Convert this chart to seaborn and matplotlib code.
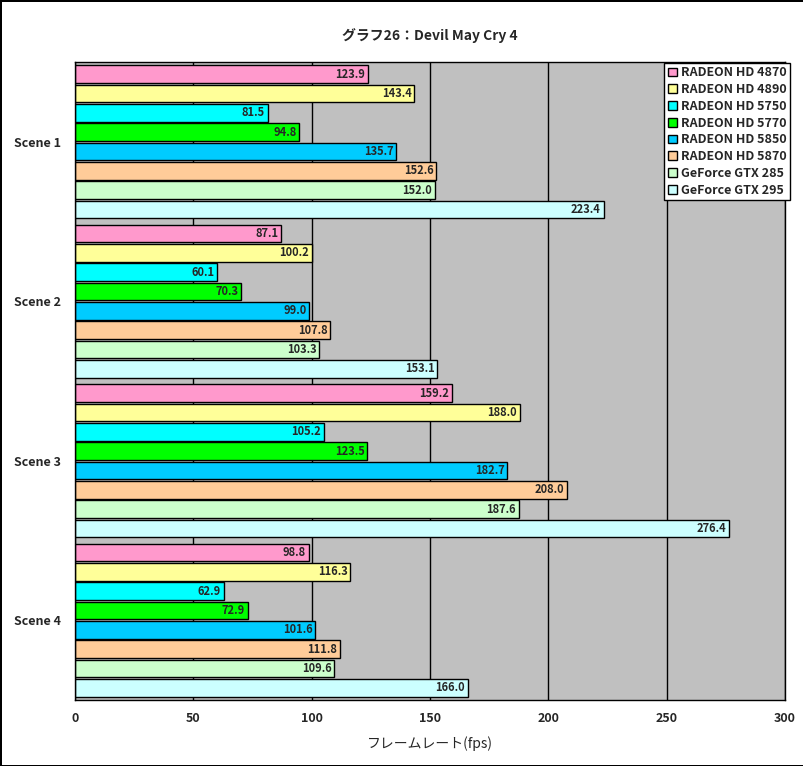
import matplotlib
matplotlib.use("Agg")
import matplotlib.pyplot as plt
import pandas as pd
import seaborn as sns

scenes = ["Scene 1", "Scene 2", "Scene 3", "Scene 4"]
cards = [
    "RADEON HD 4870", "RADEON HD 4890", "RADEON HD 5750", "RADEON HD 5770",
    "RADEON HD 5850", "RADEON HD 5870", "GeForce GTX 285", "GeForce GTX 295",
]
fps_scene1 = [123.9, 143.4, 81.5, 94.8, 135.7, 152.6, 152.0, 223.4]
fps_scene2 = [87.1, 100.2, 60.1, 70.3, 99.0, 107.8, 103.3, 153.1]
fps_scene3 = [159.2, 188.0, 105.2, 123.5, 182.7, 208.0, 187.6, 276.4]
fps_scene4 = [98.8, 116.3, 62.9, 72.9, 101.6, 111.8, 109.6, 166.0]
colors = ["#FF99CC", "#FFFF99", "#00FFFF", "#00FF00",
          "#00CCFF", "#FFCC99", "#CCFFCC", "#CCFFFF"]

rows = []
for scene, vals in zip(scenes, [fps_scene1, fps_scene2, fps_scene3, fps_scene4]):
    for card, v in zip(cards, vals):
        rows.append({"scene": scene, "card": card, "fps": v})
df = pd.DataFrame(rows)

sns.set_theme(style="white")
plt.rcParams["font.family"] = ["Noto Sans CJK JP", "DejaVu Sans"]

fig = plt.figure(figsize=(8.04, 7.66), dpi=100)
fig.patch.set_edgecolor("black")
fig.patch.set_linewidth(2)
ax = fig.add_axes([75 / 804, 1 - 700 / 766, 710 / 804, 638 / 766])
ax.set_facecolor("#C0C0C0")

sns.barplot(data=df, y="scene", x="fps", hue="card", order=scenes, hue_order=cards,
            palette=colors, saturation=1, edgecolor="black", linewidth=1,
            width=0.97, gap=0.08, ax=ax, legend=True)

for container in ax.containers:
    for p in container:
        w = p.get_width()
        ax.annotate(f"{w:.1f}", (w, p.get_y() + p.get_height() / 2),
                    xytext=(-2, 0), textcoords="offset points",
                    ha="right", va="center", fontsize=8, fontweight="bold")

ax.set_xlim(0, 300)
ax.set_xticks([0, 50, 100, 150, 200, 250, 300])
ax.xaxis.grid(True, color="black", linewidth=1)
ax.set_axisbelow(True)
ax.tick_params(axis="x", direction="in", length=4, labelsize=9, pad=9)
ax.tick_params(axis="y", length=0, labelsize=9, pad=10)
ax.set_yticks([0.5, 1.5, 2.5], minor=True)
ax.tick_params(axis="y", which="minor", length=4, direction="out")
for lbl in ax.get_xticklabels() + ax.get_yticklabels():
    lbl.set_fontweight("bold")
ax.set_ylim(3.5, -0.5)
for s in ax.spines.values():
    s.set_color("black")
    s.set_linewidth(1)

ax.set_xlabel("フレームレート(fps)", fontsize=10, labelpad=8)
ax.set_ylabel("")
ax.set_title("グラフ26：Devil May Cry 4", fontsize=10, pad=16, fontweight="bold")

leg = ax.legend(loc="upper right", bbox_to_anchor=(1.008, 1.0), fontsize=9,
                frameon=True, fancybox=False, edgecolor="black", framealpha=1,
                handlelength=0.7, handleheight=0.7, handletextpad=0.3,
                labelspacing=0.3, borderpad=0.3, borderaxespad=0.05)
leg.get_frame().set_linewidth(1)
for t in leg.get_texts():
    t.set_fontweight("bold")

fig.savefig("out.png", dpi=100, edgecolor=fig.get_edgecolor())
